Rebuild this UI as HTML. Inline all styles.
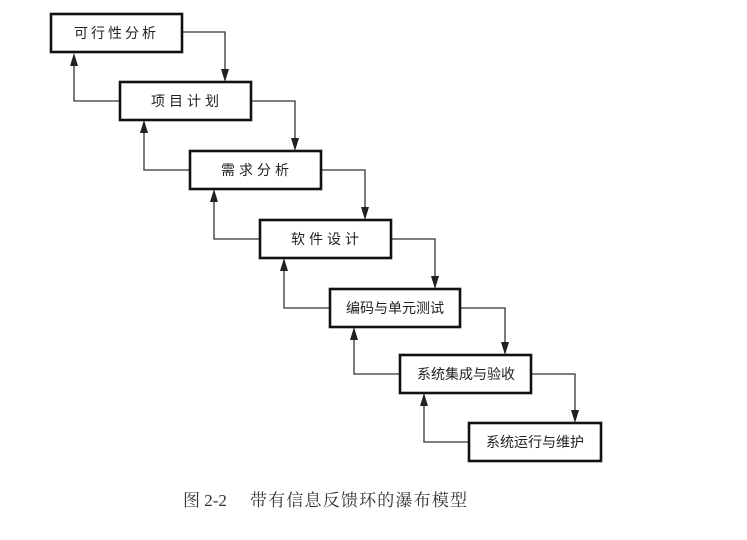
<!DOCTYPE html>
<html><head><meta charset="utf-8"><style>
html,body{margin:0;padding:0;background:#fff;}
</style></head><body>
<svg width="747" height="535" viewBox="0 0 747 535" xmlns="http://www.w3.org/2000/svg">
<g fill="none" stroke="#333" stroke-width="1.3">
<polyline points="182,32 225,32 225,72"/>
<polyline points="251,101 295,101 295,141"/>
<polyline points="321,170 365,170 365,210"/>
<polyline points="391,239 435,239 435,279"/>
<polyline points="460,308 505,308 505,345"/>
<polyline points="531,374 575,374 575,413"/>
<polyline points="120,101 74,101 74,62"/>
<polyline points="190,170 144,170 144,130"/>
<polyline points="260,239 214,239 214,199"/>
<polyline points="330,308 284,308 284,268"/>
<polyline points="400,374 354,374 354,336"/>
<polyline points="469,442 424,442 424,402"/>
</g>
<g fill="#222">
<path d="M221,69 L229,69 L225,82 Z"/>
<path d="M291,138 L299,138 L295,151 Z"/>
<path d="M361,207 L369,207 L365,220 Z"/>
<path d="M431,276 L439,276 L435,289 Z"/>
<path d="M501,342 L509,342 L505,355 Z"/>
<path d="M571,410 L579,410 L575,423 Z"/>
<path d="M70,66 L78,66 L74,53 Z"/>
<path d="M140,133 L148,133 L144,120 Z"/>
<path d="M210,202 L218,202 L214,189 Z"/>
<path d="M280,271 L288,271 L284,258 Z"/>
<path d="M350,340 L358,340 L354,327 Z"/>
<path d="M420,406 L428,406 L424,393 Z"/>
</g>
<g fill="#fff" stroke="#111" stroke-width="2.6">
<rect x="51" y="14" width="131" height="38"/>
<rect x="120" y="82" width="131" height="38"/>
<rect x="190" y="151" width="131" height="38"/>
<rect x="260" y="220" width="131" height="38"/>
<rect x="330" y="289" width="130" height="38"/>
<rect x="400" y="355" width="131" height="38"/>
<rect x="469" y="423" width="132" height="38"/>
</g>
<g font-family="Liberation Sans, Noto Sans CJK SC, sans-serif" font-size="14" fill="#222" text-anchor="middle">
<text x="116.5" y="38" letter-spacing="3">可行性分析</text>
<text x="187" y="106" letter-spacing="4">项目计划</text>
<text x="257" y="175" letter-spacing="4">需求分析</text>
<text x="327" y="244" letter-spacing="4">软件设计</text>
<text x="395" y="313">编码与单元测试</text>
<text x="466" y="379">系统集成与验收</text>
<text x="535" y="447">系统运行与维护</text>
</g>
<g font-family="Liberation Serif, Noto Serif CJK SC, serif" font-size="17" fill="#333">
<text x="183" y="506">图 2-2</text>
<text x="250" y="506" textLength="217" lengthAdjust="spacing">带有信息反馈环的瀑布模型</text>
</g>
</svg>
</body></html>
